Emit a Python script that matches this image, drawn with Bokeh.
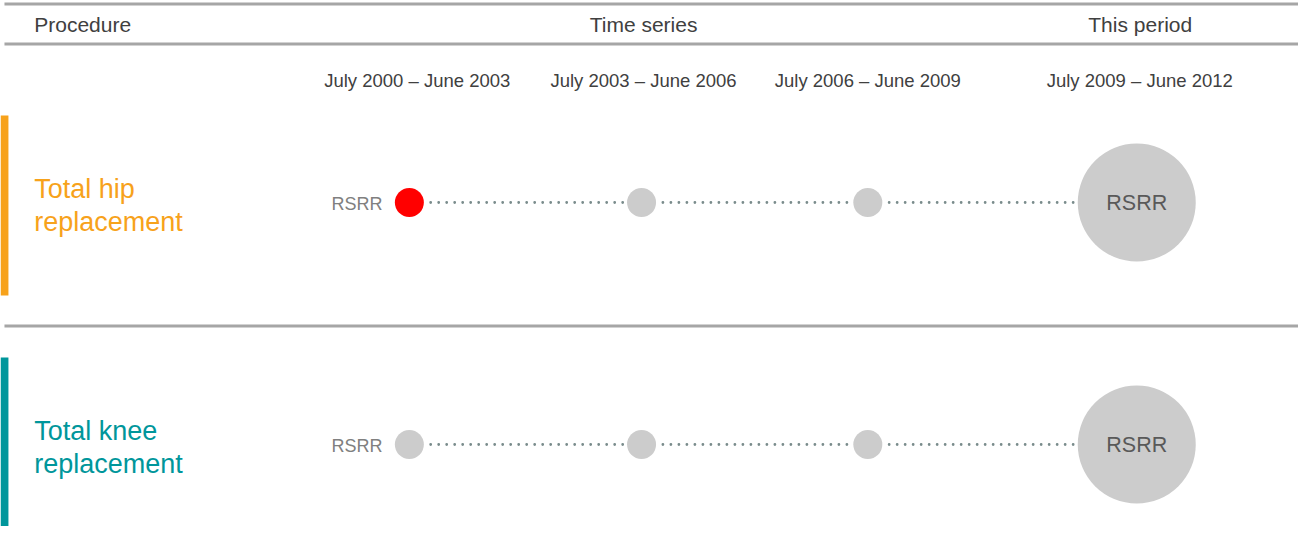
from bokeh.plotting import figure
from bokeh.models import Range1d, ColumnDataSource
from bokeh.core.properties import value
from bokeh.embed import file_html
from bokeh.resources import INLINE

# ---------------- data ----------------
headers = ["Procedure", "Time series", "This period"]
periods = ["July 2000 – June 2003", "July 2003 – June 2006",
           "July 2006 – June 2009", "July 2009 – June 2012"]
procedures = ["Total hip replacement", "Total knee replacement"]
procedure_colors = ["#f7a21b", "#00969b"]
measure = "RSRR"
# RSRR status per period (last = this period)
hip_status = ["Higher than expected", "No different", "No different", "No different"]
knee_status = ["No different", "No different", "No different", "No different"]
status_colors = {"Higher than expected": "#ff0000", "No different": "#cccccc"}

# ---------------- layout constants ----------------
FONT = value("Liberation Sans")
col_x = [415, 649, 877, 1148]          # circle centres (px of reference)
label_x = [423, 651, 877, 1151]        # period label centres
row_y = [210, 452]                     # row centres
bar_span = [(123, 303), (365, 545)]
small_d, big_d = 29, 118

p = figure(width=1298, height=526, x_range=Range1d(3, 1311), y_range=Range1d(534, 8),
           output_backend="svg", toolbar_location=None, min_border=0,
           x_axis_type=None, y_axis_type=None)
p.grid.visible = False
p.outline_line_color = None
p.background_fill_color = "white"
p.border_fill_color = "white"

# rule lines
p.segment(x0=[7, 7, 7], x1=[1311, 1311, 1311], y0=[11.5, 51.5, 333.5], y1=[11.5, 51.5, 333.5],
          line_width=3, line_color="#a6a6a6")

# header texts
p.text(x=[37], y=[32], text=[headers[0]], text_font=FONT, text_font_size="21px",
       text_color="#404040", text_align="left", text_baseline="middle")
p.text(x=[651, 1151.5], y=[32, 32], text=headers[1:], text_font=FONT, text_font_size="21px",
       text_color="#404040", text_align="center", text_baseline="middle")

# period labels
p.text(x=label_x, y=[88] * len(periods), text=periods, text_font=FONT, text_font_size="18.5px",
       text_color="#404040", text_align="center", text_baseline="middle")

statuses = [hip_status, knee_status]
for i, (proc, col) in enumerate(zip(procedures, procedure_colors)):
    cy = row_y[i]
    top, bot = bar_span[i]
    p.quad(left=[3], right=[11], top=[top], bottom=[bot], fill_color=col, line_color=None)
    l1, l2 = proc.rsplit(" ", 1)
    mid = cy - 14
    p.text(x=[37, 37], y=[mid, mid + 33], text=[l1, l2], text_font=FONT,
           text_font_size="27px", text_color=col, text_align="left",
           text_baseline="middle")
    # small label
    p.text(x=[388], y=[cy + 1], text=[measure], text_font=FONT, text_font_size="18px",
           text_color="#808080", text_align="right", text_baseline="middle")
    sizes = [small_d] * (len(periods) - 1) + [big_d]
    # dotted connectors
    for j in range(len(periods) - 1):
        x0 = col_x[j] + sizes[j] / 2 + 7
        x1 = col_x[j + 1] - sizes[j + 1] / 2 - 4
        p.line(x=[x0, x1], y=[cy, cy], line_color="#7a8c8c", line_width=2.8,
               line_dash="0 8", line_cap="round")
    src = ColumnDataSource(dict(x=col_x, y=[cy] * len(col_x), size=sizes,
                                color=[status_colors[s] for s in statuses[i]]))
    p.scatter(x="x", y="y", size="size", fill_color="color", line_color=None, source=src)
    p.text(x=[col_x[-1]], y=[cy], text=[measure], text_font=FONT, text_font_size="21.5px",
           text_color="#595959", text_align="center", text_baseline="middle")

open("out.html", "w").write(file_html(p, INLINE))
